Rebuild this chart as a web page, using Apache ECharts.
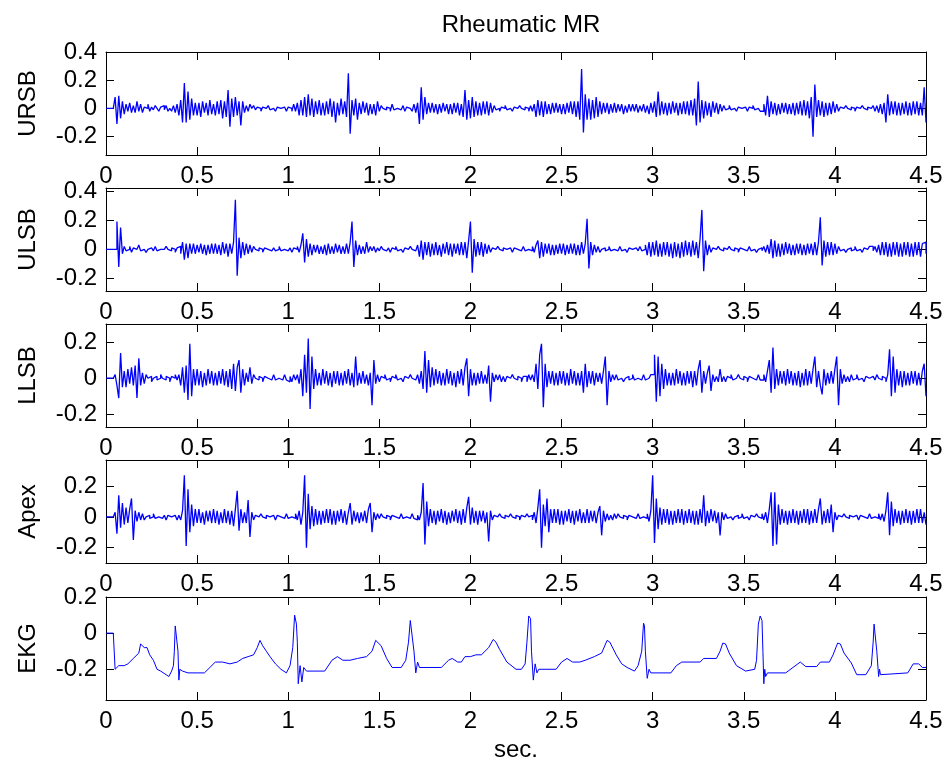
<!DOCTYPE html>
<html>
<head>
<meta charset="utf-8">
<title>Rheumatic MR</title>
<script src="https://cdn.jsdelivr.net/npm/echarts@6/dist/echarts.min.js"></script>
<style>
  html, body { margin: 0; padding: 0; background: #ffffff; }
  #chart { width: 948px; height: 769px; }
</style>
</head>
<body>
<div id="chart"></div>
<script>
// Heart sound recordings (four auscultation sites) plus the EKG lead.
// Phonocardiogram channels are sampled every 1/sampleRate seconds, one row = 0.1 s.
const sampleRate = 100;

const ursb = [
  0,0,0,0,0,.08,-.11,.09,-.07,.05,
  -.04,.03,-.02,.04,-.03,.02,-.03,.05,-.02,.03,
  -.03,.01,0,.03,-.02,.01,-.01,.02,0,-.02,
  .01,.02,-.01,.02,-.02,0,-.02,.02,-.03,.03,
  -.05,.06,-.1,.18,-.1,.12,-.08,.07,-.05,.04,
  -.05,.04,-.06,.05,-.03,.04,-.05,.06,-.04,.03,
  -.05,.05,-.04,.06,-.07,.05,-.06,.13,-.13,.07,
  -.06,.08,-.05,.05,-.12,.05,-.03,.02,-.02,.03,
  0,.02,-.01,.01,0,-.02,.01,0,-.01,.02,
  -.01,0,.01,-.02,.01,0,-.01,.01,0,-.02,
  .01,0,-.02,.03,-.02,.04,-.05,.06,-.05,.08,
  -.06,.1,-.05,.07,-.06,.05,-.04,.06,-.05,.04,
  -.05,.05,-.04,.07,-.06,.05,-.1,.04,-.05,.07,
  -.04,.05,-.06,.25,-.18,.06,-.05,.07,-.08,.04,
  -.04,.05,-.03,.04,-.05,.03,-.04,.03,-.05,.05,
  -.02,.02,0,-.01,.01,0,-.02,.03,-.01,0,
  .01,-.01,0,.02,-.02,.01,0,.01,-.02,.03,
  -.03,.04,-.11,.15,-.08,.08,-.04,.04,-.03,.04,
  -.03,.03,-.04,.03,-.03,.04,-.02,.03,-.04,.03,
  -.04,.04,-.03,.04,-.05,.03,-.06,.13,-.08,.06,
  -.07,.08,-.06,.05,-.05,.04,-.05,.05,-.04,.05,
  -.05,.04,-.03,.02,-.01,0,-.02,.01,0,.02,
  -.01,0,.01,-.02,.01,0,-.01,.02,0,-.01,
  .01,0,-.02,.02,-.02,.03,-.06,.06,-.05,.05,
  -.06,.05,-.04,.03,-.04,.04,-.03,.04,-.03,.03,
  -.04,.03,-.04,.04,-.03,.05,-.04,.05,-.06,.05,
  -.08,.28,-.17,.1,-.08,.07,-.08,.06,-.07,.08,
  -.06,.05,-.04,.04,-.03,.04,-.04,.03,-.03,.04,
  -.03,.03,-.02,.03,-.04,.02,-.03,.03,-.02,.03,
  -.02,.03,-.03,.02,-.02,.03,-.03,.02,-.04,.04,
  -.03,.05,-.06,.12,-.05,.05,-.04,.04,-.05,.04,
  -.04,.05,-.03,.04,-.05,.04,-.04,.05,-.04,.05,
  -.05,.06,-.05,.07,-.12,.19,-.1,.06,-.07,.05,
  -.05,.04,-.06,.05,-.03,.04,-.04,.03,-.02,.02,
  -.01,0,.02,-.01,0,.01,-.02,.01,0,-.01,
  .01,0,-.02,.01,0,.02,-.01,0,.01,-.02,
  -.02,.03,-.05,.09,-.06,.05,-.04,.04,-.05,.03,
  -.04,.04,-.03,.04,-.04,.03,-.04,.04,-.05,.04,
  -.04,.05,-.05,.06,-.05,.05,-.07,.08,-.2,.17,
  -.06,.06,-.05,.05,-.06,.04,-.05,.04,-.04,.05,
  -.03,.03,-.02,.01,0,-.01,.02,0,-.01,.01,
  0,-.02,.01,0,-.01,.02,0,-.01,.01,0,
  -.01,.02,-.02,.02,-.03,.03,-.04,.04,-.1,.1,
  -.05,.05,-.04,.05,-.05,.04,-.05,.04,-.04,.05,
  -.05,.04,-.05,.05,-.04,.05,-.05,.04,-.05,.15,
  -.1
];

const ulsb = [
  0,0,0,0,0,0,.19,-.12,.15,-.03,
  .02,-.01,0,.02,-.02,.01,0,-.01,.03,-.01,
  0,.01,-.02,0,.01,0,-.01,.02,-.01,0,
  .01,0,-.01,.02,0,-.01,.01,0,-.02,.01,
  .02,-.03,.05,-.07,.04,-.06,.04,-.03,.04,-.03,
  .03,-.02,.04,-.03,.03,-.04,.03,-.03,.04,-.03,
  .04,-.03,.03,-.04,.05,-.03,.04,-.05,.04,-.03,
  .05,.34,-.18,.08,-.06,.05,-.04,.04,-.03,.03,
  -.02,.02,0,-.01,.01,0,-.02,.01,0,.01,
  -.01,0,.01,-.01,0,.02,-.01,0,.01,-.01,
  0,.01,-.02,.01,0,.02,-.02,.03,.11,-.09,
  .07,-.05,.04,-.04,.03,-.02,.03,-.03,.02,-.03,
  .03,-.04,.04,-.03,.02,-.03,.04,-.02,.03,-.03,
  .02,-.03,.04,-.03,.05,.19,-.12,.06,-.04,.03,
  -.03,.02,-.03,.05,-.02,.02,-.01,.02,-.02,.01,
  -.01,.02,0,-.01,0,.01,-.02,.01,0,.02,
  -.01,0,.01,-.02,.01,0,-.01,.02,0,-.01,
  -.02,.03,-.05,.06,-.07,.05,-.04,.05,-.05,.04,
  -.04,.05,-.04,.03,-.05,.04,-.03,.05,-.04,.04,
  -.05,.04,-.03,.04,-.04,.05,-.04,.05,-.06,.06,
  .19,-.16,.07,-.05,.05,-.04,.05,-.05,.04,-.03,
  .03,-.02,.01,0,-.01,.02,0,-.01,.01,0,
  -.01,.01,0,-.02,.01,0,.01,-.01,0,.02,
  -.01,0,.01,-.01,.02,-.02,.03,.06,-.06,.05,
  -.05,.04,-.03,.04,-.04,.03,-.04,.03,-.03,.04,
  -.03,.04,-.04,.03,-.03,.04,-.03,.04,-.04,.03,
  -.04,.05,-.03,.04,.21,-.13,.05,-.04,.03,-.02,
  .02,-.02,0,.01,-.01,0,.02,-.01,0,.01,
  -.01,0,.02,-.01,0,.01,-.02,.01,0,-.01,
  .01,0,-.01,.02,-.01,0,.03,-.04,.05,-.05,
  .05,-.04,.06,-.05,.04,-.05,.05,-.04,.05,-.05,
  .04,-.06,.05,-.05,.04,-.06,.05,-.05,.06,-.04,
  .05,-.05,.06,-.04,.05,-.06,.07,.27,-.15,.06,
  -.04,.03,-.02,.01,0,-.01,.02,0,-.01,.01,
  0,-.01,.02,0,-.01,.01,0,-.02,.01,0,
  .01,-.01,0,.02,-.01,0,.01,-.02,0,.01,
  -.01,.02,-.02,.03,-.03,.07,-.06,.06,-.05,.04,
  -.05,.04,-.04,.05,-.03,.04,-.04,.03,-.04,.04,
  -.03,.04,-.04,.03,-.04,.04,-.03,.04,-.04,.05,
  -.04,.05,.22,-.11,.06,-.05,.05,-.04,.05,-.04,
  .04,-.03,.02,-.01,0,.01,-.02,0,.01,-.01,
  0,.02,-.01,0,.01,-.02,.01,0,-.01,.02,
  .02,-.01,.02,-.02,.03,-.04,.05,-.04,.05,-.05,
  .04,-.05,.05,-.04,.05,-.05,.04,-.05,.05,-.04,
  .05,-.05,.04,-.05,.05,-.04,.05,-.05,.04,.05,
  -.03
];

const llsb = [
  0,0,0,0,0,.02,-.04,-.11,.14,-.05,
  .04,-.05,.05,-.03,.06,-.04,.07,-.11,.11,-.04,
  .03,-.03,.02,0,.01,-.02,0,.01,-.01,0,
  .02,0,-.01,.01,0,-.02,.01,0,.02,-.01,
  .02,-.04,.06,-.08,.07,-.12,.19,-.1,.05,-.04,
  .05,-.04,.04,-.05,.03,-.04,.05,-.03,.04,-.04,
  .03,-.04,.04,-.03,.05,-.04,.04,-.05,.05,-.06,
  .08,-.07,.06,.1,-.08,.05,-.04,.03,-.02,.06,
  -.03,.02,0,-.01,.01,0,-.02,.01,0,.01,
  -.01,0,.02,-.01,0,.01,-.01,0,.02,-.01,
  -.02,.01,-.02,.02,-.01,.02,-.03,.05,-.1,.13,
  -.08,.22,-.17,.12,-.06,.05,-.04,.03,-.04,.05,
  -.03,.04,-.04,.03,-.05,.04,-.03,.04,-.04,.03,
  -.04,.04,-.03,.05,-.04,.03,-.05,.12,-.04,.03,
  -.03,.04,-.03,.02,-.04,.03,-.15,.1,-.03,.02,
  -.02,.01,0,.02,-.01,0,-.02,.01,0,.02,
  -.01,0,.01,-.02,.01,0,-.01,.02,0,-.01,
  -.02,.02,-.03,.04,-.06,.15,-.08,.1,-.05,.06,
  -.04,.05,-.03,.04,-.04,.03,-.04,.05,-.03,.04,
  -.04,.03,-.05,.04,-.03,.05,-.04,.06,.11,-.1,
  .05,-.04,.03,-.04,.03,-.03,.04,-.03,.02,-.03,
  .07,-.13,.03,-.02,.02,-.01,.02,-.02,.01,-.02,
  .01,0,-.01,.02,0,-.01,.01,0,-.02,.01,
  .01,-.02,.02,-.01,.02,-.02,.08,-.06,.13,.19,
  -.16,.08,-.05,.04,-.03,.04,-.04,.03,-.04,.04,
  -.03,.04,-.04,.03,-.04,.05,-.03,.04,-.04,.03,
  -.04,.04,-.08,.08,-.05,.04,-.03,.04,-.04,.03,
  -.02,.03,-.03,.04,.12,-.15,.04,-.02,.02,-.01,
  .02,-.01,0,.01,-.02,0,.01,-.01,0,.02,
  -.01,0,.01,-.01,0,.02,-.01,0,.01,.02,
  .02,.13,-.13,.12,-.1,.08,-.06,.05,-.04,.03,
  -.04,.03,-.04,.05,-.03,.04,-.04,.03,-.04,.04,
  -.03,.04,-.05,.04,-.04,.05,.1,-.08,.04,-.03,
  .03,.07,-.07,.02,-.02,.01,-.02,.05,-.02,.01,
  -.02,.01,0,.02,-.01,0,-.01,.02,0,-.01,
  .01,0,-.02,.01,0,.01,-.01,0,.02,-.01,
  -.01,.02,-.02,.04,.1,-.08,.17,-.06,.05,-.04,
  .04,-.03,.04,-.04,.05,-.03,.04,-.04,.03,-.04,
  .04,-.05,.03,-.04,.05,-.04,.04,-.03,.05,.12,
  -.05,.04,-.04,-.09,.05,-.04,.03,-.03,.04,-.03,
  .05,.12,-.15,.05,-.03,.02,-.02,.01,-.02,.02,
  -.01,0,.02,-.01,0,.01,-.02,.01,0,-.01,
  .01,0,-.01,.02,0,-.01,.01,0,-.02,.02,
  .16,-.1,.12,-.08,.05,-.04,.04,-.05,.04,-.04,
  .03,-.04,.04,-.03,.04,-.04,.03,-.04,.04,.08,
  -.1
];

const apex = [
  0,0,0,0,0,.03,-.11,.14,-.07,.09,
  -.05,.06,-.04,.05,.12,-.15,.04,-.03,.03,-.02,
  .02,-.02,0,.01,-.01,0,.02,-.01,0,.01,
  -.01,0,.01,-.02,.01,0,-.01,.01,0,-.02,
  .01,-.02,.04,.27,-.19,.18,-.1,.08,-.06,.05,
  -.04,.05,-.04,.03,-.05,.04,-.03,.04,-.04,.05,
  -.04,.04,-.05,.03,-.04,.05,-.04,.04,-.05,.04,
  -.06,.05,.17,-.09,.05,-.04,.03,-.04,.11,-.13,
  .03,-.02,.01,0,-.01,.02,0,-.01,.01,0,
  -.01,.01,0,-.02,.01,0,.01,-.01,0,.02,
  -.01,0,.01,-.01,.02,-.02,.04,-.05,.03,.27,
  -.2,.15,-.08,.07,-.06,.05,-.05,.04,-.05,.04,
  -.04,.05,-.04,.05,-.05,.04,-.05,.04,-.03,.05,
  -.04,.04,-.05,.03,.09,-.05,.04,-.03,.03,-.04,
  .03,-.03,.04,-.04,.05,.09,-.1,.03,-.02,.02,
  -.01,.02,0,-.01,.01,0,-.02,.01,0,.01,
  -.01,0,.02,-.01,0,.01,-.01,0,.02,-.01,
  -.02,.01,-.02,.03,.22,-.18,.1,-.06,.05,-.04,
  .04,-.05,.04,-.03,.05,-.04,.04,-.05,.03,-.04,
  .04,-.03,.05,-.04,.04,-.05,.05,-.04,.06,.13,
  -.05,.06,-.04,.04,-.05,.04,-.03,.04,-.04,.03,
  -.16,.04,-.02,.01,0,-.01,.02,0,-.01,.01,
  0,-.01,.02,0,-.01,.01,0,-.02,.01,0,
  -.01,.02,0,.01,-.02,.03,-.04,.06,.18,-.2,
  .08,-.06,.12,-.1,.05,-.04,.05,-.04,.05,-.05,
  .04,-.05,.04,-.03,.05,-.04,.04,-.05,.04,-.03,
  .05,-.04,.03,-.04,.05,-.04,.04,-.03,.04,-.04,
  .03,.07,-.12,.04,-.03,.02,-.02,.01,-.02,.02,
  -.01,.02,0,-.01,.01,0,-.02,.01,0,.01,
  -.01,0,.02,-.01,0,.01,-.01,.02,-.03,.04,
  .27,-.17,.12,-.08,.06,-.05,.05,-.04,.05,-.05,
  .04,-.05,.04,-.04,.05,-.04,.05,-.05,.04,-.04,
  .05,-.04,.04,-.05,.04,-.05,.05,-.04,.14,-.06,
  .04,-.04,.05,-.03,.04,-.04,.03,-.12,.03,-.02,
  .02,-.01,0,.01,-.02,0,.01,-.01,0,.02,
  -.01,0,.01,-.02,.01,0,-.01,.02,0,-.01,
  .02,-.02,.03,-.04,.05,.16,-.19,.16,-.18,.08,
  -.05,.05,-.04,.04,-.05,.04,-.04,.05,-.04,.04,
  -.05,.04,-.04,.05,-.04,.05,-.05,.04,-.04,.05,
  -.04,.05,.12,-.05,.04,-.04,.05,-.04,.08,-.1,
  .03,-.02,.01,0,-.01,.02,0,-.01,.01,0,
  -.01,.01,0,-.02,.01,0,.01,-.01,0,.02,
  -.01,0,.01,-.01,.02,-.02,.02,-.03,.04,.16,
  -.12,.1,-.06,.05,-.04,.04,-.05,.04,-.04,.05,
  -.04,.04,-.05,.04,-.04,.05,-.04,.05,-.04,.03,
  -.05
];

// EKG lead as [time (s), amplitude] vertices.
const ekg = [
  [0,0],[0.04,0],[0.05,-0.2],[0.055,-0.19],[0.07,-0.18],[0.1,-0.18],[0.12,-0.17],[0.15,-0.14],
  [0.18,-0.11],[0.19,-0.06],[0.2,-0.05],[0.21,-0.08],[0.225,-0.08],[0.24,-0.12],[0.26,-0.15],
  [0.28,-0.2],[0.3,-0.21],[0.33,-0.23],[0.345,-0.24],[0.36,-0.21],[0.37,-0.18],[0.375,-0.1],
  [0.38,0.04],[0.39,0.03],[0.395,-0.1],[0.4,-0.26],[0.405,-0.2],[0.42,-0.21],[0.43,-0.21],
  [0.45,-0.22],[0.5,-0.22],[0.54,-0.22],[0.57,-0.19],[0.6,-0.16],[0.64,-0.16],[0.68,-0.17],
  [0.72,-0.16],[0.75,-0.14],[0.78,-0.13],[0.81,-0.12],[0.83,-0.08],[0.845,-0.04],[0.86,-0.07],
  [0.88,-0.1],[0.9,-0.13],[0.93,-0.17],[0.96,-0.2],[0.99,-0.22],[1.01,-0.18],[1.025,-0.08],
  [1.035,0.1],[1.045,0.05],[1.05,-0.05],[1.055,-0.28],[1.065,-0.18],[1.075,-0.27],[1.085,-0.19],
  [1.1,-0.21],[1.2,-0.21],[1.24,-0.15],[1.27,-0.13],[1.3,-0.15],[1.34,-0.15],[1.38,-0.14],
  [1.43,-0.13],[1.46,-0.1],[1.48,-0.04],[1.49,-0.03],[1.51,-0.07],[1.54,-0.14],[1.57,-0.19],
  [1.62,-0.19],[1.645,-0.15],[1.66,-0.05],[1.67,0.07],[1.68,0.08],[1.69,-0.1],[1.7,-0.22],
  [1.71,-0.16],[1.72,-0.19],[1.84,-0.19],[1.88,-0.15],[1.9,-0.14],[1.93,-0.16],[1.95,-0.16],
  [1.97,-0.13],[2.0,-0.13],[2.03,-0.12],[2.06,-0.12],[2.1,-0.08],[2.125,-0.035],[2.14,-0.05],
  [2.16,-0.09],[2.2,-0.16],[2.25,-0.2],[2.28,-0.2],[2.3,-0.17],[2.31,-0.05],[2.32,0.095],
  [2.33,0.08],[2.335,-0.1],[2.345,-0.26],[2.355,-0.17],[2.365,-0.22],[2.375,-0.2],[2.47,-0.2],
  [2.5,-0.16],[2.53,-0.14],[2.56,-0.16],[2.6,-0.16],[2.63,-0.15],[2.68,-0.13],[2.72,-0.11],
  [2.75,-0.04],[2.765,-0.05],[2.8,-0.12],[2.83,-0.17],[2.86,-0.19],[2.9,-0.21],[2.92,-0.18],
  [2.94,-0.1],[2.95,0.055],[2.955,0.04],[2.96,-0.1],[2.97,-0.25],[2.98,-0.2],[2.99,-0.22],
  [3.1,-0.22],[3.13,-0.18],[3.16,-0.16],[3.26,-0.16],[3.28,-0.14],[3.35,-0.14],[3.37,-0.1],
  [3.385,-0.055],[3.4,-0.06],[3.42,-0.11],[3.46,-0.18],[3.51,-0.21],[3.56,-0.2],[3.57,-0.15],
  [3.58,0.05],[3.59,0.095],[3.6,0.07],[3.605,-0.1],[3.61,-0.28],[3.615,-0.2],[3.62,-0.24],
  [3.63,-0.22],[3.73,-0.22],[3.77,-0.19],[3.81,-0.16],[3.84,-0.185],[3.9,-0.185],[3.92,-0.16],
  [3.97,-0.16],[3.99,-0.12],[4.015,-0.055],[4.03,-0.06],[4.05,-0.11],[4.09,-0.165],[4.12,-0.23],
  [4.17,-0.23],[4.2,-0.18],[4.21,-0.05],[4.215,0.05],[4.225,0.04],[4.23,-0.1],[4.24,-0.24],
  [4.245,-0.2],[4.25,-0.23],[4.26,-0.22],[4.4,-0.22],[4.43,-0.17],[4.46,-0.17],[4.48,-0.19],
  [4.5,-0.19]
];

const channelNames = ['URSB', 'ULSB', 'LLSB', 'Apex', 'EKG'];
const yRanges = [[-0.33, 0.4], [-0.285, 0.42], [-0.27, 0.3], [-0.3, 0.37], [-0.37, 0.2]];
const yTickValues = [[-0.2, 0, 0.2, 0.4], [-0.2, 0, 0.2, 0.4], [-0.2, 0, 0.2], [-0.2, 0, 0.2], [-0.2, 0, 0.2]];
const timeRange = [0, 4.5];
const timeStep = 0.5;

function sampled(values) {
  return values.map((v, i) => [i / sampleRate, v]);
}
const channelData = [sampled(ursb), sampled(ulsb), sampled(llsb), sampled(apex), ekg];
// sample-and-hold drawing for the sound channels, straight segments for the EKG
const channelStep = ['end', 'end', 'end', 'end', false];
const channelLineWidth = [1.3, 1.3, 1.3, 1.3, 1];

// Layout of the stacked panels
const FONT = "'Liberation Sans', Arial, Helvetica, sans-serif";
const panelTops = [52, 188, 324, 460, 597];
const panelHeight = 103;
const plotLeft = 106;
const plotRight = 22;
const traceColor = '#0000ff';

const axisLine = { show: true, onZero: false, lineStyle: { color: '#000', width: 1 } };
const tickStyle = { show: true, inside: true, length: 8, lineStyle: { color: '#000', width: 1 } };
const labelStyle = { color: '#000', fontSize: 24, fontFamily: FONT };

const grids = [], xAxes = [], yAxes = [], series = [];
channelNames.forEach((name, k) => {
  grids.push({ left: plotLeft, right: plotRight, top: panelTops[k], height: panelHeight });

  const bottomAxis = {
    type: 'value', gridIndex: k, position: 'bottom',
    min: timeRange[0], max: timeRange[1], interval: timeStep,
    axisLine: axisLine, axisTick: tickStyle, splitLine: { show: false },
    axisLabel: Object.assign({ margin: 9, formatter: v => String(v) }, labelStyle)
  };
  if (k === channelNames.length - 1) {
    Object.assign(bottomAxis, {
      name: 'sec.', nameLocation: 'middle', nameGap: 38,
      nameTextStyle: { color: '#000', fontSize: 24, fontFamily: FONT }
    });
  }
  xAxes.push(bottomAxis);
  xAxes.push({
    type: 'value', gridIndex: k, position: 'top',
    min: timeRange[0], max: timeRange[1], interval: timeStep,
    axisLine: axisLine, axisTick: tickStyle, splitLine: { show: false },
    axisLabel: { show: false }
  });

  const ticks = yTickValues[k];
  yAxes.push({
    type: 'value', gridIndex: k, position: 'left',
    min: yRanges[k][0], max: yRanges[k][1],
    axisLine: axisLine,
    axisTick: Object.assign({}, tickStyle, { customValues: ticks }),
    axisLabel: Object.assign({ margin: 9, customValues: ticks, formatter: v => String(v) }, labelStyle),
    splitLine: { show: false },
    name: name, nameLocation: 'middle', nameRotate: 90, nameGap: 66,
    nameTextStyle: { color: '#000', fontSize: 24, fontFamily: FONT }
  });
  yAxes.push({
    type: 'value', gridIndex: k, position: 'right',
    min: yRanges[k][0], max: yRanges[k][1],
    axisLine: axisLine,
    axisTick: Object.assign({}, tickStyle, { customValues: ticks }),
    axisLabel: { show: false },
    splitLine: { show: false }
  });

  series.push({
    type: 'line', name: name,
    xAxisIndex: 2 * k, yAxisIndex: 2 * k,
    data: channelData[k],
    step: channelStep[k],
    showSymbol: false, symbol: 'none', silent: true,
    lineStyle: { color: traceColor, width: channelLineWidth[k] },
    clip: true
  });
});

const chart = echarts.init(document.getElementById('chart'), null, { renderer: 'canvas' });
chart.setOption({
  animation: false,
  backgroundColor: '#ffffff',
  title: {
    text: 'Rheumatic MR',
    left: plotLeft + (948 - plotLeft - plotRight) / 2, top: 8, textAlign: 'center',
    textStyle: { color: '#000', fontSize: 24, fontWeight: 'normal', fontFamily: FONT }
  },
  grid: grids,
  xAxis: xAxes,
  yAxis: yAxes,
  series: series
});
</script>
</body>
</html>
